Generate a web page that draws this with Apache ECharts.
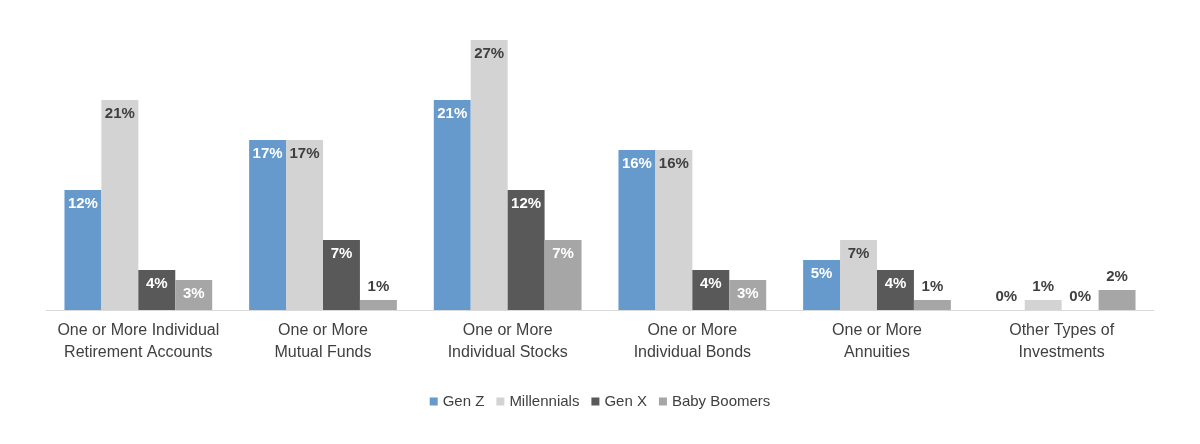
<!DOCTYPE html>
<html><head><meta charset="utf-8">
<script src="https://cdn.jsdelivr.net/npm/echarts@6/dist/echarts.min.js"></script>
<style>html,body{margin:0;background:#fff}#c{width:1200px;height:444px}</style>
</head><body><div id="c"></div>
<script>
const categories = ["One or More Individual\nRetirement Accounts","One or More\nMutual Funds","One or More\nIndividual Stocks","One or More\nIndividual Bonds","One or More\nAnnuities","Other Types of\nInvestments"];
const genZ = [12,17,21,16,5,0];
const millennials = [21,17,27,16,7,1];
const genX = [4,7,12,4,4,0];
const boomers = [3,1,7,3,1,2];
const names = ["Gen Z","Millennials","Gen X","Baby Boomers"];
const colors = ["#6699cc","#d3d3d3","#595959","#a6a6a6"];
const labelColors = ["#fff","#404040","#fff","#fff"];
function mk(i, arr){
  return {name:names[i], type:'bar', barGap:0, barCategoryGap:'20%',
    itemStyle:{color:colors[i]},
    data: arr.map(v=>({value:v, label: v<=2 ? {position:'top', color:'#404040', offset:[0,0]} : {}})),
    label:{show:true, position:'insideTop', color:labelColors[i], fontWeight:'bold', fontSize:15, fontFamily:'Liberation Sans', formatter:'{c}%', distance:6}};
}
const chart = echarts.init(document.getElementById('c'));
chart.setOption({
  animation:false,
  grid:{left:46, right:46, top:40, bottom:134},
  legend:{bottom:30, itemWidth:8, itemHeight:8, itemGap:12, icon:'rect', textStyle:{fontSize:15, color:'#404040', fontFamily:'Liberation Sans'}},
  xAxis:{type:'category', data:categories, axisTick:{show:false}, axisLine:{lineStyle:{color:'#d9d9d9'}},
    axisLabel:{fontSize:16, color:'#404040', fontFamily:'Liberation Sans', lineHeight:22, margin:10, interval:0}},
  yAxis:{type:'value', min:0, max:27, show:false, splitLine:{show:false}},
  series:[mk(0,genZ),mk(1,millennials),mk(2,genX),mk(3,boomers)]
});
</script></body></html>
